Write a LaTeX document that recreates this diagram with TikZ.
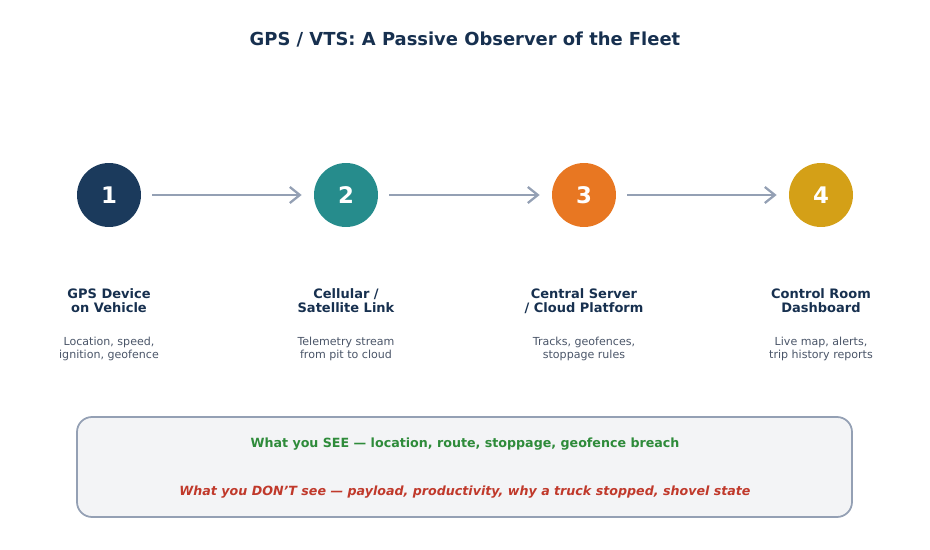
\documentclass[tikz,border=0pt]{standalone}
\usepackage{fontspec}
\setmainfont{DejaVu Sans}
\usetikzlibrary{arrows.meta}
\definecolor{navy}{HTML}{1B3A5C}
\definecolor{teal2}{HTML}{268C8C}
\definecolor{orng}{HTML}{E87722}
\definecolor{gold}{HTML}{D4A017}
\definecolor{titlec}{HTML}{17304F}
\definecolor{greyt}{HTML}{4A5568}
\definecolor{edgec}{HTML}{94A0B4}
\definecolor{boxfill}{HTML}{F3F4F6}
\definecolor{seegreen}{HTML}{2E8B3A}
\definecolor{dontred}{HTML}{C0392B}
\begin{document}
\begin{tikzpicture}
	[
		x=0.02cm, y=-0.02cm,
		stage/.style = {shape=circle, minimum size=1.28cm, inner sep=0pt, text=white, font=\fontsize{13}{15}\selectfont\bfseries},
		heading/.style = {align=center, text=titlec, font=\fontsize{7.4}{8}\selectfont\bfseries},
		note/.style = {align=center, text=greyt, font=\fontsize{6.3}{7}\selectfont},
		flow/.style = {draw=edgec, line width=1.3pt, -{Straight Barb[length=2mm, width=3.2mm]}}
	]
	
	\useasboundingbox (0,0) rectangle (930,550);
	
	\node [text=titlec, font=\fontsize{10.2}{12}\selectfont\bfseries] (title) at (465,40) {GPS / VTS: A Passive Observer of the Fleet};
	
	\node [stage, fill=navy] (s1) at (109,195) {1};
	\node [stage, fill=teal2] (s2) at (346,195) {2};
	\node [stage, fill=orng] (s3) at (584,195) {3};
	\node [stage, fill=gold] (s4) at (821,195) {4};
	
	\draw [flow] ([xshift=0.22cm]s1.east) -- ([xshift=-0.24cm]s2.west);
	\draw [flow] ([xshift=0.22cm]s2.east) -- ([xshift=-0.24cm]s3.west);
	\draw [flow] ([xshift=0.22cm]s3.east) -- ([xshift=-0.24cm]s4.west);
	
	\node [heading] (h1) at (109,301) {GPS Device\\on Vehicle};
	\node [heading] (h2) at (346,301) {Cellular /\\Satellite Link};
	\node [heading] (h3) at (584,301) {Central Server\\/ Cloud Platform};
	\node [heading] (h4) at (821,301) {Control Room\\Dashboard};
	
	\node [note] (n1) at (109,349) {Location, speed,\\ignition, geofence};
	\node [note] (n2) at (346,349) {Telemetry stream\\from pit to cloud};
	\node [note] (n3) at (584,349) {Tracks, geofences,\\stoppage rules};
	\node [note] (n4) at (821,349) {Live map, alerts,\\trip history reports};
	
	\draw [draw=edgec, fill=boxfill, line width=1pt, rounded corners=0.3cm] (77,417) rectangle (852,517);
	
	\node [text=seegreen, font=\fontsize{7.2}{9}\selectfont\bfseries] (see) at (465,444) {What you SEE — location, route, stoppage, geofence breach};
	\node [text=dontred, font=\fontsize{7.2}{9}\selectfont\bfseries\itshape] (dont) at (465,492) {What you DON\char39T see — payload, productivity, why a truck stopped, shovel state};
	
\end{tikzpicture}
\end{document}
